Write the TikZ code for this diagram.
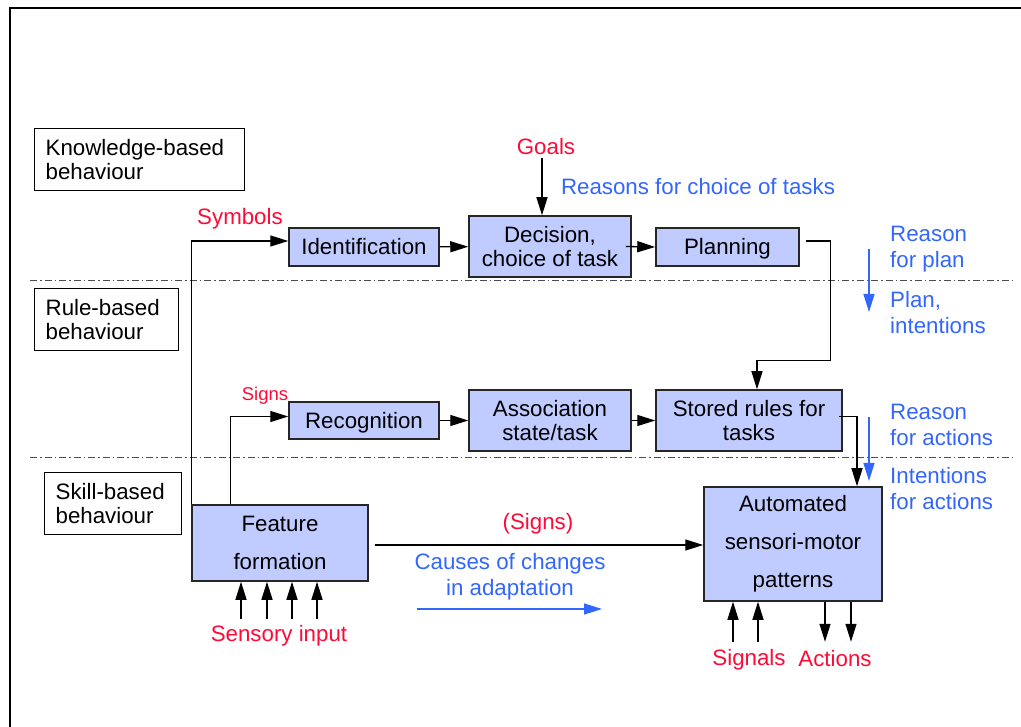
\documentclass[tikz,border=0pt]{standalone}
\usepackage{fontspec}
\setmainfont{Liberation Sans}
\usepackage{xcolor}
\usetikzlibrary{positioning,calc,arrows.meta}
\definecolor{boxfill}{RGB}{192,203,255}
\definecolor{lblred}{RGB}{255,10,55}
\definecolor{lblblue}{RGB}{51,102,255}

\tikzset{
  block/.style={draw=black!85, line width=1.5pt, fill=boxfill, align=center, inner sep=0pt,
    font=\fontsize{22.3}{24}\selectfont},
  level/.style={draw=black, line width=1.3pt, align=left, anchor=north west, inner xsep=11pt,
    inner ysep=0pt, minimum height=62pt, font=\fontsize{22.3}{24}\selectfont},
  redlbl/.style={text=lblred, font=\fontsize{22.3}{24}\selectfont, inner sep=0pt},
  bluelbl/.style={text=lblblue, align=left, font=\fontsize{22.3}{26}\selectfont, inner sep=0pt},
  arr/.style={line width=1.3pt, -{Triangle[length=18pt,width=11pt]}},
  bluearr/.style={draw=lblblue, line width=1.3pt, -{Triangle[length=18pt,width=11pt]}},
  sepline/.style={draw=black!70, line width=1pt, dash pattern=on 7pt off 3pt on 1.5pt off 3pt}
}

\begin{document}
\begin{tikzpicture}[x=1pt,y=-1pt]
\useasboundingbox (0,0) rectangle (1021,727);
\draw[line width=2pt] (10,740) -- (10,8) -- (1030,8);

% levels
\draw[sepline] (30,281) -- (1015,281);
\draw[sepline] (30,458) -- (1015,458);
\node[level, text width=188pt] (know) at (34,128) {Knowledge-based\\behaviour};
\node[level, text width=122pt] (rule) at (34,288) {Rule-based\\behaviour};
\node[level, text width=115pt] (skill) at (44,472) {Skill-based\\behaviour};

% blocks
\node[block, minimum width=150pt, minimum height=38pt] (ident) at (364,247) {Identification};
\node[block, minimum width=162pt, minimum height=61pt] (decision) at (550,246.5) {Decision,\\choice of task};
\node[block, minimum width=143pt, minimum height=38pt, text depth=1pt] (planning) at (727.5,247) {Planning};
\node[block, minimum width=150pt, minimum height=37pt, text depth=1pt] (recog) at (364,420.5) {Recognition};
\node[block, minimum width=162pt, minimum height=61pt] (assoc) at (550,420.5) {Association\\state/task};
\node[block, minimum width=186pt, minimum height=61pt] (rules) at (749,420.5) {Stored rules for\\tasks};
\node[block, minimum width=176pt, minimum height=76pt, font=\fontsize{22.3}{38}\selectfont] (feature) at (280,543) {Feature\\formation};
\node[block, minimum width=178pt, minimum height=114pt, font=\fontsize{22.3}{38}\selectfont] (automated) at (793,544) {Automated\\sensori-motor\\patterns};

% labels
\node[redlbl] (goals) at (546,147) {Goals};
\node[redlbl] (symbols) at (240,219) {Symbols};
\node[redlbl, font=\fontsize{18.5}{20}\selectfont] (signs) at (265,396) {Signs};
\node[redlbl] (signs2) at (538,524) {(Signs)};
\node[redlbl] (sensory) at (279,636) {Sensory input};
\node[redlbl] (signals) at (749,660) {Signals};
\node[redlbl] (actions) at (835,659) {Actions};
\node[bluelbl] (reasons) at (698,187) {Reasons for choice of tasks};
\node[bluelbl, anchor=west] (rplan) at (890,249) {Reason\\for plan};
\node[bluelbl, anchor=west] (plan) at (890,313) {Plan,\\intentions};
\node[bluelbl, anchor=west] (ract) at (890,425) {Reason\\for actions};
\node[bluelbl, anchor=west] (iact) at (890,489) {Intentions\\for actions};
\node[bluelbl, align=center] (causes) at (510,577) {Causes of changes\\in adaptation};

% connectors
\draw[arr] (goals.south) ++(-4,3) -- ($(decision.north)+(-8,0)$);
\draw[arr] (ident) -- (decision);
\draw[arr] ($(decision.east)+(-6,0)$) -- (planning.west);
\draw[arr] (recog) -- (assoc);
\draw[arr] (assoc) -- (rules);
\draw[arr] (feature.north west) |- ($(ident.west)+(0,-6)$);
\draw[arr] ($(feature.north west)+(39,0)$) |- ($(recog.west)+(0,-4)$);
\draw[arr] ($(planning.east)+(6,-6)$) -- ++(25,0) |- ($(rules.north)+(8,-29)$) -- ($(rules.north)+(8,0)$);
\draw[arr] ($(rules.east)+(-4,-4)$) -| ($(automated.north)+(64,0)$);
\draw[arr] ($(feature.east)+(6,2)$) -- ($(automated.west)+(0,1)$);
\foreach \dx in {-39,-13,12,37}
  \draw[arr] ($(feature.south)+(\dx,37)$) -- ($(feature.south)+(\dx,0)$);
\foreach \dx in {-60,-35}
  \draw[arr] ($(automated.south)+(\dx,40)$) -- ($(automated.south)+(\dx,0)$);
\foreach \dx in {32,58}
  \draw[arr] ($(automated.south)+(\dx,0)$) -- ($(automated.south)+(\dx,40)$);

% blue arrows
\draw[bluearr] (869,249) -- (869,312);
\draw[bluearr] (869,417) -- (869,481);
\draw[bluearr] (417,609) -- (602,609);
\end{tikzpicture}
\end{document}
